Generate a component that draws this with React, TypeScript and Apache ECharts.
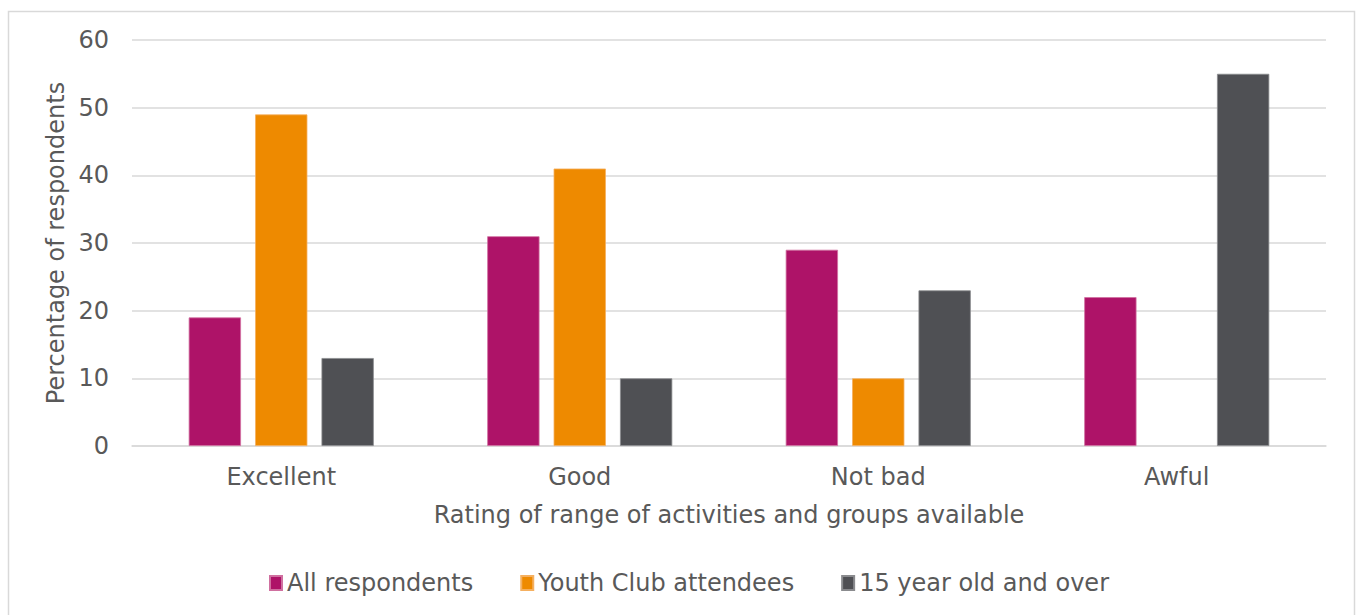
import React, { useEffect, useRef } from "react";
import * as echarts from "echarts";

const categories = ["Excellent", "Good", "Not bad", "Awful"];
const allRespondents = [19, 31, 29, 22];
const youthClub = [49, 41, 10, 0];
const over15 = [13, 10, 23, 55];
const seriesNames = ["All respondents", "Youth Club attendees", "15 year old and over"];
const colors = ["#AE1368", "#EE8A00", "#4F5054"];
const borderColors = ["#D070A0", "#F5B060", "#8A8B8E"];

const FONT = "DejaVu Sans";
const TEXT = "#595959";

export default function App() {
  const ref = useRef<HTMLDivElement>(null);

  useEffect(() => {
    if (!ref.current) return;
    const chart = echarts.init(ref.current, undefined, { renderer: "svg" });
    const data = [allRespondents, youthClub, over15];
    chart.setOption({
      animation: false,
      backgroundColor: "#ffffff",
      textStyle: { fontFamily: FONT },
      graphic: [
        {
          type: "rect",
          shape: { x: 8.5, y: 11.5, width: 1346, height: 620 },
          style: { fill: "none", stroke: "#d9d9d9", lineWidth: 1.5 },
          silent: true,
        },
      ],
      grid: { left: 132, right: 30, top: 40, bottom: 169, containLabel: false },
      legend: {
        data: seriesNames,
        bottom: 15,
        left: 264,
        itemWidth: 12,
        itemHeight: 14,
        itemGap: 47,
        icon: "rect",
        textStyle: { color: TEXT, fontSize: 24, fontFamily: FONT },
      },
      xAxis: {
        type: "category",
        data: categories,
        name: "Rating of range of activities and groups available",
        nameLocation: "middle",
        nameGap: 57,
        nameTextStyle: { color: TEXT, fontSize: 24, fontFamily: FONT },
        axisLine: { show: true, lineStyle: { color: "#d9d9d9", width: 1.5 } },
        axisTick: { show: false },
        axisLabel: { color: TEXT, fontSize: 24, margin: 19, fontFamily: FONT },
      },
      yAxis: {
        type: "value",
        min: 0,
        max: 60,
        interval: 10,
        name: "Percentage of respondents",
        nameLocation: "middle",
        nameGap: 60,
        nameTextStyle: { color: TEXT, fontSize: 24, fontFamily: FONT },
        axisLine: { show: false },
        axisTick: { show: false },
        axisLabel: { color: TEXT, fontSize: 24, margin: 23, fontFamily: FONT },
        splitLine: { lineStyle: { color: "#d9d9d9", width: 1.5 } },
      },
      series: seriesNames.map((name, i) => ({
        name,
        type: "bar",
        data: data[i].map((v) =>
          v === 0 ? { value: v, itemStyle: { borderWidth: 0 } } : v
        ),
        barGap: "27%",
        barCategoryGap: "38%",
        itemStyle: { color: colors[i], borderColor: borderColors[i], borderWidth: 0.8 },
      })),
    });
    return () => chart.dispose();
  }, []);

  return (
    <div
      ref={ref}
      style={{ position: "absolute", left: 0, top: 0, width: 1356, height: 615 }}
    />
  );
}
